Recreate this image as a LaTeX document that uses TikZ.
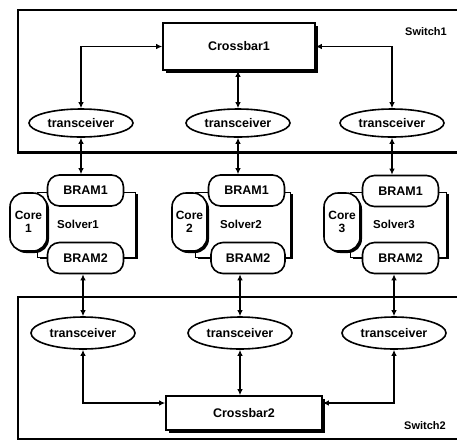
\documentclass[tikz,border=0pt]{standalone}
\usepackage{fontspec}
\setmainfont{Liberation Sans}
\usetikzlibrary{arrows.meta,shapes.geometric,shadows,calc}
\begin{document}
\begin{tikzpicture}[x=1pt,y=-1pt,
  every node/.style={font=\bfseries\fontsize{12.5}{13}\selectfont},
  conn/.style={line width=1.8pt,{Latex[length=6pt,width=5.5pt]}-{Latex[length=6pt,width=5.5pt]}},
  trx/.style={ellipse,draw,line width=1.6pt,fill=white,minimum width=104pt,minimum height=30pt,inner sep=0pt},
  bram/.style={draw,line width=1.6pt,rounded corners=12pt,fill=white,minimum width=76pt,minimum height=31pt,inner sep=0pt},
  corebox/.style={draw,line width=1.6pt,rounded corners=14pt,fill=white,minimum width=37pt,minimum height=58pt,inner sep=0pt,align=center,font=\bfseries\fontsize{12}{13.5}\selectfont,
     drop shadow={shadow xshift=2pt,shadow yshift=-2pt,opacity=1,fill=black}},
  bodybox/.style={draw,line width=0.9pt,fill=white,inner sep=0pt,
     drop shadow={shadow xshift=3pt,shadow yshift=-2pt,opacity=1,fill=black}},
  xbar/.style={draw,line width=1.6pt,fill=white,inner sep=0pt,
     drop shadow={shadow xshift=2.5pt,shadow yshift=-2.5pt,opacity=1,fill=black}},
  lbl/.style={inner sep=0pt,font=\bfseries\fontsize{11.5}{12}\selectfont},
  swlbl/.style={inner sep=0pt,font=\bfseries\fontsize{11}{12}\selectfont}
]
\useasboundingbox (0,0) rectangle (457,440);
% switch boxes
\draw[line width=1.2pt] (460,10) -- (18,10) -- (18,152);
\draw[line width=3pt] (17,152) -- (460,152);
\draw[line width=1.2pt] (460,297) -- (18,297) -- (18,439) -- (460,439);
\node[swlbl] (sw1) at (426,32) {Switch1};
\node[swlbl] (sw2) at (425,426) {Switch2};

% crossbars
\node[xbar,minimum width=152pt,minimum height=47pt] (c1) at (239,46.5) {Crossbar1};
\node[xbar,minimum width=156pt,minimum height=34pt] (c2) at (244,413) {Crossbar2};

% top transceivers
\node[trx,minimum height=28pt] (t1) at (81,123) {transceiver};
\node[trx,minimum height=28pt] (t2) at (238,123) {transceiver};
\node[trx,minimum height=28pt] (t3) at (392,123) {transceiver};
% bottom transceivers
\node[trx,minimum height=32pt] (u1) at (83,333) {transceiver};
\node[trx,minimum height=32pt] (u2) at (240,333) {transceiver};
\node[trx,minimum height=32pt] (u3) at (394,333) {transceiver};

% solver 1
\node[bodybox,minimum width=98pt,minimum height=65pt] (s1) at (86,224.5) {};
\node[bram] (a1) at (85.5,190.5) {BRAM1};
\node[bram] (z1) at (85.5,258) {BRAM2};
\node[corebox] (k1) at (28.5,222) {Core\\1};
\node[lbl] (l1) at (78,224) {Solver1};
% solver 2
\node[bodybox,minimum width=95pt,minimum height=65pt] (s2) at (242.5,224.5) {};
\node[bram] (a2) at (246.5,190.5) {BRAM1};
\node[bram,minimum width=74pt] (z2) at (248,258) {BRAM2};
\node[corebox,minimum width=35pt] (k2) at (189.5,222) {Core\\2};
\node[lbl] (l2) at (241,224) {Solver2};
% solver 3
\node[bodybox,minimum width=96pt,minimum height=65pt] (s3) at (398,224.5) {};
\node[bram] (a3) at (400.5,191) {BRAM1};
\node[bram] (z3) at (400.5,258) {BRAM2};
\node[corebox,minimum width=36pt] (k3) at (342,222) {Core\\3};
\node[lbl] (l3) at (394,224) {Solver3};

% connectors top
\draw[conn] (t1.north) |- (c1.west);
\draw[conn] (t2.north) -- (t2.north |- c1.south);
\draw[conn] (t3.north) |- (c1.east);
\draw[conn] (t1.south) -- (t1.south |- a1.north);
\draw[conn] (t2.south) -- (t2.south |- a2.north);
\draw[conn] (t3.south) -- (t3.south |- a3.north);
% connectors bottom
\draw[conn] (u1.north |- z1.south) -- (u1.north);
\draw[conn] (u2.north |- z2.south) -- (u2.north);
\draw[conn] (u3.north |- z3.south) -- (u3.north);
\draw[conn] (u1.south) |- ([yshift=10pt]c2.west);
\draw[conn] (u2.south) -- (u2.south |- c2.north);
\draw[conn] (u3.south) |- ([yshift=10pt]c2.east);
\end{tikzpicture}
\end{document}
